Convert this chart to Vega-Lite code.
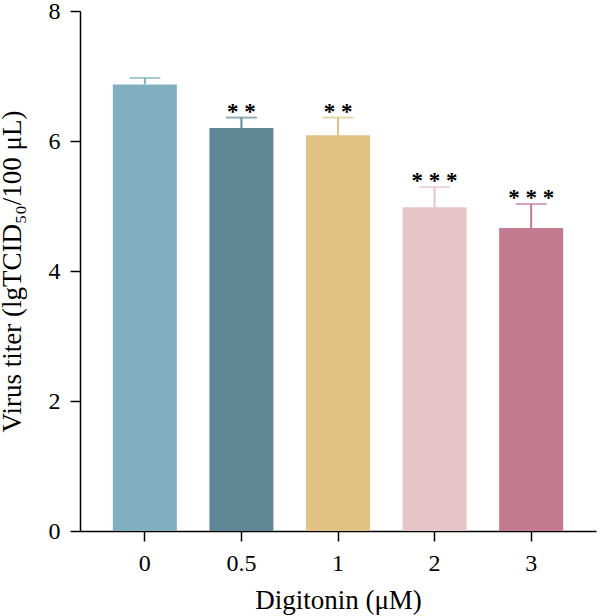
{
  "$schema": "https://vega.github.io/schema/vega-lite/v6.json",
  "autosize": "none",
  "width": 516,
  "height": 520,
  "padding": {"left": 80, "top": 11, "right": 4, "bottom": 85},
  "background": "white",
  "config": {
    "view": {"stroke": null},
    "font": "Liberation Serif",
    "axis": {"labelFont": "Liberation Serif", "titleFont": "Liberation Serif", "labelColor": "#000", "titleColor": "#000", "domainColor": "#000", "tickColor": "#000", "domainWidth": 1.5, "tickWidth": 1.5, "tickSize": 10, "grid": false, "labelFontSize": 24, "titleFontSize": 27, "titleFontWeight": "normal"}
  },
  "data": {"values": [
    {"dose": "0", "mean": 6.87, "upper": 6.97, "sig": ""},
    {"dose": "0.5", "mean": 6.2, "upper": 6.36, "sig": "* *"},
    {"dose": "1", "mean": 6.09, "upper": 6.36, "sig": "* *"},
    {"dose": "2", "mean": 4.98, "upper": 5.29, "sig": "* * *"},
    {"dose": "3", "mean": 4.66, "upper": 5.03, "sig": "* * *"}
  ]},
  "encoding": {
    "x": {"field": "dose", "type": "nominal", "sort": null,
      "scale": {"paddingInner": 0.337, "paddingOuter": 0.34},
      "axis": {"title": "Digitonin (μM)", "labelAngle": 0, "labelPadding": 10, "titlePadding": 12}},
    "color": {"field": "dose", "type": "nominal", "sort": null, "legend": null,
      "scale": {"domain": ["0", "0.5", "1", "2", "3"], "range": ["#80afc0", "#5f8796", "#e0c283", "#e6c4ca", "#c27a91"]}}
  },
  "layer": [
    {"mark": {"type": "rule", "strokeWidth": 2},
     "encoding": {"y": {"field": "mean", "type": "quantitative"}, "y2": {"field": "upper"}}},
    {"mark": {"type": "tick", "orient": "horizontal", "thickness": 2, "size": 31},
     "encoding": {"y": {"field": "upper", "type": "quantitative"}}},
    {"mark": {"type": "bar", "width": 64},
     "encoding": {"y": {"field": "mean", "type": "quantitative",
       "scale": {"domain": [0, 8]},
       "axis": {"title": "Virus titer (lgTCID₅₀/100 μL)", "values": [0, 2, 4, 6, 8], "format": "d", "labelPadding": 10, "titlePadding": 22}}}},
    {"mark": {"type": "text", "fontSize": 23, "fontWeight": "bold", "baseline": "alphabetic", "dy": 1, "color": "#000"},
     "encoding": {"y": {"field": "upper", "type": "quantitative"}, "text": {"field": "sig"}, "color": {"value": "#000"}}}
  ]
}
